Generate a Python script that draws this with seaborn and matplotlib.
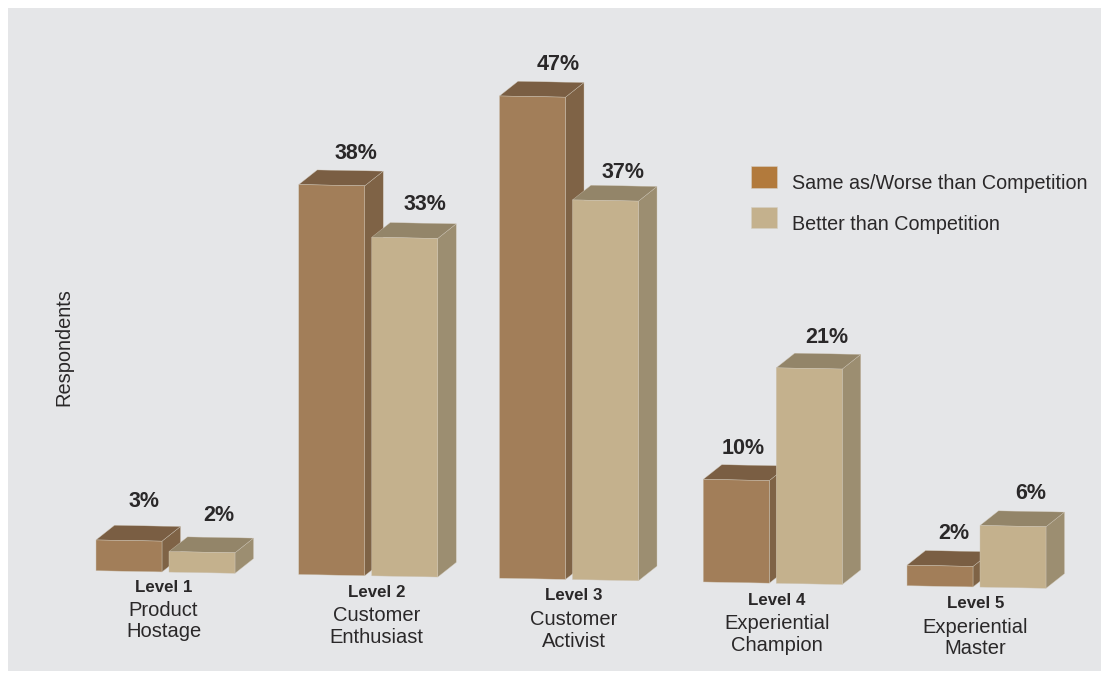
import matplotlib
matplotlib.use("Agg")
import matplotlib.pyplot as plt
from matplotlib.patches import Patch, Polygon, Rectangle
from matplotlib.transforms import Affine2D
import pandas as pd
import seaborn as sns

# Survey shares per experience level
levels = ["Level 1", "Level 2", "Level 3", "Level 4", "Level 5"]
level_names = ["Product\nHostage", "Customer\nEnthusiast", "Customer\nActivist",
               "Experiential\nChampion", "Experiential\nMaster"]
series_names = ["Same as/Worse than Competition", "Better than Competition"]
same_or_worse = [3, 38, 47, 10, 2]
better = [2, 33, 37, 21, 6]

# Colours: front, side and top faces of each series
front_colors = ["#A27E59", "#C4B18D"]
side_colors = ["#7F6346", "#9C8E71"]
top_colors = ["#7A5E43", "#938569"]
legend_colors = ["#B27A3C", "#C4B18D"]
edge_color = "#CFC6B6"
text_color = "#2A2829"
panel_color = "#E5E6E8"

# Layout, in pixels unless noted
W, H = 1101, 680
CAT_PX = 202.75          # distance between level groups
FIRST_PX = 165.5         # centre of the first group
PCT_PX = 10.26           # height of one percentage point
BASE_PX = 572.0          # baseline under the first group
SLOPE_PX = 3.75          # baseline drop per group
DEPTH_X, DEPTH_Y = 18.5, 15.0
group_nudge = [0, 0, -2, -1, 0]
caption_dx = [-2, 8, 3, 3, -1]
caption_dy = [0, 2, 1, 2, 2]
name_dy = [0, 2, 2, 2, 2]
# value label offsets from the front top edge of each bar, per series and level
label_dx = [[15, 24, 26, 7, 14], [17, 20, 18, 18, 18]]
label_dy = [39, 32, 32, 31, 32], [37, 33, 28, 31, 33]

sns.set_theme(style="white")
plt.rcParams["font.family"] = ["Liberation Sans", "DejaVu Sans"]

df = pd.DataFrame({
    "level": levels * 2,
    "series": [series_names[0]] * 5 + [series_names[1]] * 5,
    "share": same_or_worse + better,
})

fig = plt.figure(figsize=(W / 100, H / 100), dpi=100, facecolor="white")
fig.add_artist(Rectangle((8 / W, 1 - 671 / H), (W - 8) / W, 663 / H, transform=fig.transFigure,
                         facecolor=panel_color, edgecolor="none", zorder=-1))
ax = fig.add_axes([0, 0, 1, 1])
ax.patch.set_visible(False)

sns.barplot(data=df, x="level", y="share", hue="series", order=levels,
            hue_order=series_names, palette=front_colors, saturation=1,
            width=0.72, gap=0.096, legend=False, ax=ax)

ax.set_xlim(-FIRST_PX / CAT_PX, (W - FIRST_PX) / CAT_PX)
ax.set_ylim(-(H - BASE_PX) / PCT_PX, BASE_PX / PCT_PX)
ax.set_axis_off()

# The whole chart leans slightly: each group sits a little lower than the last
k = SLOPE_PX / PCT_PX
lean = Affine2D.from_values(1, -k, 0, 1, 0, 0)
tr = lean + ax.transData
dx = DEPTH_X / CAT_PX
dy = DEPTH_Y / PCT_PX

bars = []
for s, container in enumerate(ax.containers):
    for i, bar in enumerate(container):
        bars.append((i, s, bar))
bars.sort(key=lambda b: (b[0], b[1]))

for order, (i, s, bar) in enumerate(bars):
    bar.set_x(bar.get_x() + group_nudge[i] / CAT_PX)
    x0, w, h = bar.get_x(), bar.get_width(), bar.get_height()
    x1 = x0 + w
    z = 3 + order
    bar.set_transform(tr)
    bar.set_zorder(z + 0.1)
    bar.set_edgecolor(edge_color)
    bar.set_linewidth(0.3)
    side = [(x1, 0), (x1 + dx, dy), (x1 + dx, h + dy), (x1, h)]
    top = [(x0, h), (x0 + dx, h + dy), (x1 + dx, h + dy), (x1, h)]
    ax.add_patch(Polygon(side, closed=True, transform=tr, facecolor=side_colors[s],
                         edgecolor=edge_color, linewidth=0.25, zorder=z))
    ax.add_patch(Polygon(top, closed=True, transform=tr, facecolor=top_colors[s],
                         edgecolor=edge_color, linewidth=0.25, zorder=z))
    ax.annotate(f"{int(h)}%", xy=(x0 + w / 2, h), xycoords=tr,
                xytext=(label_dx[s][i], label_dy[s][i]), textcoords="offset pixels",
                ha="center", va="center", fontsize=15.5, fontweight="bold",
                color=text_color, zorder=50)

# Level captions under each group
for i, (lv, name) in enumerate(zip(levels, level_names)):
    ax.annotate(lv, xy=(i, 0), xycoords=tr,
                xytext=(caption_dx[i], -15 - caption_dy[i]), textcoords="offset pixels",
                ha="center", va="center", fontsize=12.2, fontweight="bold", color=text_color)
    ax.annotate(name, xy=(i, 0), xycoords=tr,
                xytext=(caption_dx[i], -49 - name_dy[i]), textcoords="offset pixels",
                ha="center", va="center", fontsize=14.5, color=text_color,
                linespacing=1.19)

fig.text(64 / W, 1 - 347 / H, "Respondents", rotation=90, ha="center", va="center",
         fontsize=14.4, color=text_color)

handles = [Patch(facecolor=c, edgecolor="#D5CFC4", linewidth=0.4, label=n)
           for c, n in zip(legend_colors, series_names)]
legend = ax.legend(handles=handles, loc="upper left", bbox_to_anchor=(751 / W, 1 - 166 / H),
                   bbox_transform=fig.transFigure, frameon=False, fontsize=14.2, borderpad=0,
                   borderaxespad=0, handlelength=1.32, handleheight=1.32, labelspacing=0.96,
                   handletextpad=0.76, labelcolor=text_color)
# Entries sit a little below the centre of their swatches
for label in legend.get_texts():
    label.set_y(-6)

fig.savefig("out.png", dpi=100)
